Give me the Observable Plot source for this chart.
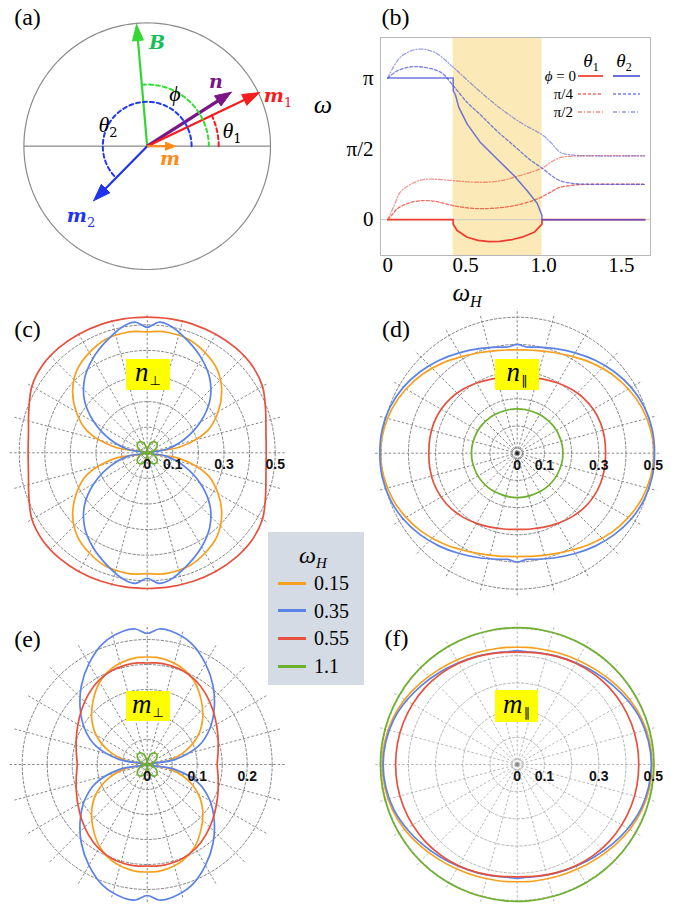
<!DOCTYPE html>
<html><head><meta charset="utf-8">
<script src="https://cdn.jsdelivr.net/npm/d3@7"></script>
<script src="https://cdn.jsdelivr.net/npm/@observablehq/plot@0.6"></script>
<style>
body{margin:0;background:#fff;}
#root{position:relative;width:688px;height:904px;overflow:hidden;background:#fff;}
.lbl{position:absolute;transform:translate(-50%,-50%);white-space:nowrap;line-height:1;color:#000;}
.rlbl{position:absolute;transform:translate(-100%,-50%);white-space:nowrap;line-height:1;color:#000;}
.tnr{font-family:"Liberation Serif",serif;}
.bm{font-family:"DejaVu Serif",serif;font-style:italic;font-weight:bold;}
.it{font-family:"Liberation Serif",serif;font-style:italic;}
.box{position:absolute;background:#ffff00;display:flex;align-items:center;justify-content:center;line-height:1;}
.pnl{position:absolute;}
</style></head>
<body><div id="root"></div>
<script>
// ================= DATA =================
// (a) vector diagram
const vecNames   = ["B", "n", "m1", "m2", "m"];
const vecAngles  = [95, 32.7, 25.5, 225.5, 0];      // degrees
const vecLengths = [0.99, 0.81, 1.01, 0.62, 0.23];  // in units of circle radius
const arcNames   = ["phi", "theta2", "theta1"];
const arcTargets = ["B", "m2", "m1"];
const arcRadii   = [0.5, 0.36, 0.58];

// (b) equilibrium angles vs omega_H
const bXTicks = [0, 0.5, 1.0, 1.5];
const bXTickLabels = ["0", "0.5", "1.0", "1.5"];
const bYTicks = [0, Math.PI / 2, Math.PI];
const bYTickLabels = ["0", "π/2", "π"];
const bShade = [0.42, 0.99];
const theta1Phi0 = [[0,0],[0.42,0],[0.42,-0.1],[0.445,-0.24],[0.51,-0.39],[0.58,-0.46],[0.65,-0.485],[0.72,-0.48],[0.8,-0.44],[0.87,-0.38],[0.94,-0.28],[0.99,-0.1],[0.99,0],[1.65,0]];
const theta2Phi0 = [[0,3.1416],[0.42,3.1416],[0.42,2.86],[0.435,2.76],[0.456,2.49],[0.51,2.12],[0.595,1.71],[0.7,1.35],[0.81,0.98],[0.895,0.64],[0.96,0.36],[0.99,0.09],[0.99,0],[1.65,0]];
const theta1Phi45 = [[0,0],[0.03,0.12],[0.06,0.24],[0.12,0.35],[0.21,0.42],[0.3,0.41],[0.42,0.31],[0.55,0.25],[0.66,0.25],[0.81,0.31],[0.96,0.46],[1.05,0.62],[1.1,0.71],[1.2,0.77],[1.3,0.785],[1.65,0.785]];
const theta1Phi90 = [[0,0],[0.04,0.31],[0.08,0.61],[0.15,0.79],[0.23,0.89],[0.34,0.89],[0.47,0.85],[0.6,0.83],[0.72,0.86],[0.85,0.98],[1.0,1.16],[1.05,1.28],[1.11,1.38],[1.2,1.41],[1.65,1.416]];
const theta2Phi45 = [[0,3.1416],[0.06,3.30],[0.15,3.39],[0.23,3.38],[0.34,3.27],[0.42,2.97],[0.51,2.60],[0.6,2.31],[0.7,1.97],[0.81,1.64],[0.92,1.31],[1.0,1.12],[1.05,0.98],[1.11,0.86],[1.2,0.8],[1.3,0.785],[1.65,0.785]];
const theta2Phi90 = [[0,3.1416],[0.08,3.6],[0.19,3.78],[0.3,3.71],[0.42,3.38],[0.55,2.97],[0.7,2.53],[0.85,2.16],[1.0,1.86],[1.05,1.7],[1.11,1.49],[1.2,1.43],[1.65,1.416]];

// (c)-(f) polar plots: radius at these angles (first quadrant, mirrored)
const polarAngles = [0, 10, 20, 30, 40, 50, 60, 70, 80, 85, 90];
const omegaH = ["0.15", "0.35", "0.55", "1.1"];
// (c) n_perp
const nPerp015 = [0, 0.13, 0.25, 0.32, 0.38, 0.425, 0.452, 0.472, 0.477, 0.476, 0.472];
const nPerp035 = [0, 0.075, 0.155, 0.24, 0.32, 0.38, 0.425, 0.465, 0.505, 0.512, 0.49];
const nPerp055 = [0.465, 0.471, 0.492, 0.52, 0.533, 0.536, 0.535, 0.533, 0.531, 0.53, 0.53];
const nPerp11  = [0, 0.016, 0.031, 0.043, 0.051, 0.053, 0.05, 0.04, 0.022, 0.011, 0];
// (d) n_par
const nPar015 = [0.503, 0.498, 0.488, 0.472, 0.453, 0.431, 0.41, 0.394, 0.384, 0.381, 0.38];
const nPar035 = [0.505, 0.504, 0.497, 0.484, 0.466, 0.446, 0.426, 0.409, 0.396, 0.392, 0.4];
const nPar055 = [0.325, 0.326, 0.326, 0.323, 0.317, 0.308, 0.298, 0.289, 0.283, 0.281, 0.28];
const nPar11  = [0.168, 0.168, 0.167, 0.167, 0.166, 0.165, 0.164, 0.163, 0.163, 0.163, 0.163];
// (e) m_perp
const mPerp015 = [0, 0.042, 0.083, 0.118, 0.145, 0.168, 0.19, 0.205, 0.213, 0.215, 0.215];
const mPerp035 = [0, 0.056, 0.11, 0.145, 0.175, 0.205, 0.233, 0.258, 0.271, 0.272, 0.262];
const mPerp055 = [0.14, 0.144, 0.151, 0.16, 0.171, 0.183, 0.194, 0.201, 0.204, 0.204, 0.203];
const mPerp11  = [0, 0.007, 0.014, 0.021, 0.026, 0.028, 0.027, 0.022, 0.013, 0.006, 0];
// (f) m_par
const mPar015 = [0.496, 0.494, 0.488, 0.478, 0.465, 0.453, 0.444, 0.437, 0.433, 0.432, 0.431];
const mPar035 = [0.493, 0.49, 0.483, 0.47, 0.456, 0.443, 0.432, 0.424, 0.418, 0.416, 0.419];
const mPar055 = [0.447, 0.447, 0.446, 0.444, 0.441, 0.436, 0.43, 0.423, 0.417, 0.414, 0.413];
const mPar11  = [0.503, 0.503, 0.503, 0.503, 0.503, 0.503, 0.503, 0.503, 0.503, 0.503, 0.503];

const cTickVals = [0, 0.1, 0.3, 0.5];
const cTickLabels = ["0", "0.1", "0.3", "0.5"];
const eTickVals = [0, 0.1, 0.2];
const eTickLabels = ["0", "0.1", "0.2"];

// ================= STYLE =================
const curveColors = ["#f7a01e", "#5b82e6", "#e6503d", "#6cb02c"];
const vecStyle = {
  B:  {color: "#33d633", w: 2.2, head: [16, 5.5]},
  n:  {color: "#7b1485", w: 3.2, head: [16, 6]},
  m1: {color: "#f51d1d", w: 2.2, head: [17, 6]},
  m2: {color: "#1f33f0", w: 2.2, head: [17, 6]},
  m:  {color: "#ff8a1a", w: 2.2, head: [10, 4]}
};
const arcColors = {phi: "#33dd33", theta2: "#2038f0", theta1: "#f01d1d"};

// ================= HELPERS =================
const root = document.getElementById("root");
const rad = d => d * Math.PI / 180;
function place(el, left, top, w, h) {
  const d = document.createElement("div");
  d.className = "pnl";
  d.style.left = left + "px"; d.style.top = top + "px";
  d.style.width = w + "px"; d.style.height = h + "px";
  d.appendChild(el); root.appendChild(d); return d;
}
function label(html, x, y, css, cls = "lbl") {
  const d = document.createElement("div");
  d.className = cls;
  d.style.left = x + "px"; d.style.top = y + "px";
  if (css) d.style.cssText += css;
  d.innerHTML = html; root.appendChild(d); return d;
}
function closedPolar(rs) {
  const A = polarAngles, pts = [];
  const push = (deg, r) => pts.push([r * Math.cos(rad(deg)), r * Math.sin(rad(deg))]);
  for (let i = 0; i < A.length; i++) push(A[i], rs[i]);
  for (let i = A.length - 2; i >= 0; i--) push(180 - A[i], rs[i]);
  for (let i = 1; i < A.length; i++) push(180 + A[i], rs[i]);
  for (let i = A.length - 2; i >= 1; i--) push(360 - A[i], rs[i]);
  return pts;
}
const baseStyle = {background: "transparent", overflow: "visible"};

// ================= PANEL (a) =================
(function () {
  const left = 0, top = 0, w = 300, h = 300, cx = 146.7, cy = 145.7, k = 123.3;
  const marks = [];
  const circ = d3.range(0, 361, 2).map(a => [Math.cos(rad(a)), Math.sin(rad(a))]);
  marks.push(Plot.line(circ, {x: d => d[0], y: d => d[1], stroke: "#8a8a8a", strokeWidth: 1.2}));
  marks.push(Plot.link([{x1: -1, x2: 1}], {x1: "x1", x2: "x2", y1: () => 0, y2: () => 0, stroke: "#8a8a8a", strokeWidth: 1.2}));
  vecNames.forEach((name, i) => {
    const a = rad(vecAngles[i]), L = vecLengths[i], st = vecStyle[name];
    const hl = st.head[0] / k, hw = st.head[1] / k;
    const tip = [L * Math.cos(a), L * Math.sin(a)];
    const base = [tip[0] - hl * Math.cos(a), tip[1] - hl * Math.sin(a)];
    const perp = [-Math.sin(a), Math.cos(a)];
    marks.push(Plot.link([{x2: base[0] + 0.3 * hl * Math.cos(a), y2: base[1] + 0.3 * hl * Math.sin(a)}],
      {x1: () => 0, y1: () => 0, x2: "x2", y2: "y2", stroke: st.color, strokeWidth: st.w}));
    const tri = [tip, [base[0] + hw * perp[0], base[1] + hw * perp[1]], [base[0] - hw * perp[0], base[1] - hw * perp[1]], tip];
    marks.push(Plot.line(tri, {x: d => d[0], y: d => d[1], fill: st.color, stroke: st.color, strokeWidth: 1}));
  });
  arcNames.forEach((name, i) => {
    const end = vecAngles[vecNames.indexOf(arcTargets[i])];
    const r = arcRadii[i];
    const pts = d3.range(0, end, 2).concat([end]).map(a => [r * Math.cos(rad(a)), r * Math.sin(rad(a))]);
    marks.push(Plot.line(pts, {x: d => d[0], y: d => d[1], stroke: arcColors[name], strokeWidth: 2, strokeDasharray: "4,3"}));
  });
  const plot = Plot.plot({
    width: w, height: h, margin: 0, style: baseStyle,
    x: {domain: [(left - cx) / k, (left + w - cx) / k], axis: null},
    y: {domain: [(cy - top - h) / k, (cy - top) / k], axis: null},
    marks
  });
  place(plot, left, top, w, h);
})();

// ================= PANEL (b) =================
(function () {
  const red = "#ee3b2e", blue = "#4a55d8";
  const L = (data, stroke, opts) => Plot.line(data, Object.assign({x: d => d[0], y: d => d[1], stroke, curve: "catmull-rom"}, opts));
  const plot = Plot.plot({
    width: 350, height: 300, marginLeft: 50, marginRight: 30, marginTop: 37, marginBottom: 45,
    style: baseStyle,
    x: {domain: [-0.047, 1.687]},
    y: {domain: [-0.794, 4.04]},
    marks: [
      Plot.rect([bShade], {x1: d => d[0], x2: d => d[1], fill: "#fbe9b8"}),
      Plot.ruleY([0], {stroke: "#c9c9c9", strokeWidth: 1}),
      L(theta1Phi90, red, {strokeWidth: 1.3, strokeOpacity: 0.55, strokeDasharray: "4,2,1,2"}),
      L(theta2Phi90, blue, {strokeWidth: 1.3, strokeOpacity: 0.55, strokeDasharray: "4,2,1,2"}),
      L(theta1Phi45, red, {strokeWidth: 1.3, strokeOpacity: 0.75, strokeDasharray: "3,2"}),
      L(theta2Phi45, blue, {strokeWidth: 1.3, strokeOpacity: 0.75, strokeDasharray: "3,2"}),
      L(theta1Phi0, red, {strokeWidth: 1.7, curve: "linear"}),
      L(theta2Phi0, blue, {strokeWidth: 1.5, strokeOpacity: 0.8, curve: "linear"}),
      Plot.frame({stroke: "#b8b8b8"}),
      Plot.axisX({ticks: bXTicks, tickFormat: d => bXTickLabels[bXTicks.indexOf(d)], tickSize: 0, tickPadding: 2,
        fontSize: 21, fontFamily: "Liberation Serif", label: null}),
      Plot.axisY({ticks: bYTicks, tickFormat: d => bYTickLabels[bYTicks.indexOf(d)], tickSize: 0, tickPadding: 7,
        fontSize: 21, fontFamily: "Liberation Serif", label: null})
    ]
  });
  place(plot, 330, 0, 350, 300);
})();

// ================= POLAR PANELS =================
function polarPanel(o) {
  const {left, top, w, h, cx, cy, k} = o;
  const marks = [];
  const circ = o.circles.flatMap(r => d3.range(0, 361, 3).map(a => ({r, x: r * Math.cos(rad(a)), y: r * Math.sin(rad(a))})));
  marks.push(Plot.line(circ, {x: "x", y: "y", z: "r", stroke: o.grid, strokeWidth: 0.9, strokeDasharray: "2.5,2"}));
  const sp = d3.range(0, 360, 15).map(a => ({x2: o.spokeR * Math.cos(rad(a)), y2: o.spokeR * Math.sin(rad(a))}));
  marks.push(Plot.link(sp, {x1: () => 0, y1: () => 0, x2: "x2", y2: "y2", stroke: o.grid, strokeWidth: 0.9, strokeDasharray: "2.5,2"}));
  if (o.centerDot) marks.push(Plot.dot([0], {x: () => 0, y: () => 0, r: 1.8, fill: o.centerDot, stroke: "none"}));
  o.curves.forEach((rs, i) => marks.push(Plot.line(closedPolar(rs), {
    x: d => d[0], y: d => d[1], curve: "catmull-rom-closed", stroke: curveColors[i], strokeWidth: 1.7
  })));
  marks.push(Plot.text(o.tickVals.map((v, i) => ({x: v, t: o.tickLabels[i]})), {
    x: "x", y: () => 0, text: "t", dy: 12, fontSize: 14, fontWeight: "bold", fontFamily: "Liberation Sans", fill: "#111"
  }));
  const plot = Plot.plot({
    width: w, height: h, margin: 0, style: baseStyle,
    x: {domain: [(left - cx) / k, (left + w - cx) / k], axis: null},
    y: {domain: [(cy - top - h) / k, (cy - top) / k], axis: null},
    marks
  });
  place(plot, left, top, w, h);
}

polarPanel({left: 0, top: 300, w: 300, h: 305, cx: 146.7, cy: 452.3, k: 256, grid: "#7a7a7a",
  circles: [0.1, 0.2, 0.3, 0.4, 0.5], spokeR: 0.54,
  curves: [nPerp015, nPerp035, nPerp055, nPerp11], tickVals: cTickVals, tickLabels: cTickLabels});
polarPanel({left: 344, top: 300, w: 344, h: 300, cx: 516.7, cy: 452.7, k: 272, grid: "#7a7a7a",
  circles: [0.01, 0.02, 0.1, 0.2, 0.3, 0.4, 0.5], spokeR: 0.53, centerDot: "#222",
  curves: [nPar015, nPar035, nPar055, nPar11], tickVals: cTickVals, tickLabels: cTickLabels});
polarPanel({left: 0, top: 600, w: 300, h: 304, cx: 146.7, cy: 764, k: 500, grid: "#7a7a7a",
  circles: [0.05, 0.1, 0.15, 0.2, 0.25], spokeR: 0.275,
  curves: [mPerp015, mPerp035, mPerp055, mPerp11], tickVals: eTickVals, tickLabels: eTickLabels});
polarPanel({left: 344, top: 600, w: 344, h: 304, cx: 516.7, cy: 764, k: 272, grid: "#b0b0b0",
  circles: [0.01, 0.02, 0.1, 0.2, 0.3, 0.4, 0.5], spokeR: 0.53, centerDot: "#888",
  curves: [mPar015, mPar035, mPar055, mPar11], tickVals: cTickVals, tickLabels: cTickLabels});

// ================= TEXT =================
const pl = "font-size:24px;";
label("(a)", 27.5, 16.5, pl, "lbl tnr");
label("(b)", 395.5, 16.5, pl, "lbl tnr");
label("(c)", 27.5, 328.5, pl, "lbl tnr");
label("(d)", 396, 328.5, pl, "lbl tnr");
label("(e)", 27.5, 639, pl, "lbl tnr");
label("(f)", 396.5, 638, pl, "lbl tnr");

// (a) labels
const sub = (t, s) => `<span style="font-size:${s}px;font-style:normal;font-weight:normal;position:relative;top:5px;font-family:'DejaVu Serif'">${t}</span>`;
label("B", 157, 42, "font-size:19px;color:#14bf5a;", "lbl bm");
label("ϕ", 175, 94, "font-size:22px;", "lbl it");
label("n", 216, 81, "font-size:19px;color:#7b1485;", "lbl bm");
label("m" + sub("1", 13), 278, 95, "font-size:19px;color:#f51d1d;", "lbl bm");
label("θ" + sub("2", 13), 108, 125, "font-size:22px;", "lbl it");
label("θ" + sub("1", 13), 232, 131, "font-size:22px;", "lbl it");
label("m", 170, 158, "font-size:19px;color:#ff8a1a;", "lbl bm");
label("m" + sub("2", 13), 81, 215, "font-size:19px;color:#1f33f0;", "lbl bm");

// (b) labels
const sub2 = (t, s, top) => `<span style="font-size:${s}px;position:relative;top:${top}px">${t}</span>`;
const subN = (t, s, top) => `<span style="font-size:${s}px;font-style:normal;position:relative;top:${top}px">${t}</span>`;
label("ω", 323, 105, "font-size:26px;", "lbl it");
label("ω" + sub2("H", 16, 6), 467, 292, "font-size:25px;", "lbl it");
label("θ" + subN("1", 12, 4), 591, 60, "font-size:19px;", "lbl it");
label("θ" + subN("2", 12, 4), 624, 60, "font-size:19px;", "lbl it");
const legRows = [76, 94, 112];
label("<i>ϕ</i> = 0", 576, legRows[0], "font-size:15px;line-height:13px;", "rlbl tnr");
label("π/4", 573, legRows[1], "font-size:15px;line-height:13px;", "rlbl tnr");
label("π/2", 573, legRows[2], "font-size:15px;line-height:13px;", "rlbl tnr");
(function () {
  const ns = "http://www.w3.org/2000/svg";
  const svg = document.createElementNS(ns, "svg");
  svg.setAttribute("width", 70); svg.setAttribute("height", 52);
  svg.style.cssText = "position:absolute;left:578px;top:70px;";
  const rows = [["none", 1, 1.7], ["3,2", 0.75, 1.4], ["4,2,1,2", 0.6, 1.4]];
  rows.forEach((r, i) => {
    [["#ee3b2e", 0, 25], ["#4a55d8", 35, 62]].forEach(([c, x1, x2]) => {
      const l = document.createElementNS(ns, "line");
      l.setAttribute("x1", x1); l.setAttribute("x2", x2);
      l.setAttribute("y1", legRows[i] - 70); l.setAttribute("y2", legRows[i] - 70);
      l.setAttribute("stroke", c); l.setAttribute("stroke-width", r[2]);
      l.setAttribute("stroke-opacity", r[1]);
      if (r[0] !== "none") l.setAttribute("stroke-dasharray", r[0]);
      svg.appendChild(l);
    });
  });
  root.appendChild(svg);
})();

// yellow boxes
function box(left, top, w, h, letter, symbol) {
  const d = document.createElement("div");
  d.className = "box";
  d.style.left = left + "px"; d.style.top = top + "px"; d.style.width = w + "px"; d.style.height = h + "px";
  d.innerHTML = `<span style="font:italic 27px 'Liberation Serif';position:relative;top:-2px">${letter}</span><span style="font:13px 'DejaVu Sans';position:relative;top:6px;margin-left:1px">${symbol}</span>`;
  root.appendChild(d);
}
box(126, 359, 44, 31, "n", "⊥");
box(495, 359, 44, 31, "n", "∥");
box(126, 691, 44, 30, "m", "⊥");
box(495, 690, 43, 32, "m", "∥");

// omega_H legend
(function () {
  const d = document.createElement("div");
  d.style.cssText = "position:absolute;left:268px;top:532px;width:96px;height:153px;background:#d5dbe5;";
  root.appendChild(d);
  label("ω" + sub2("H", 15, 5), 313, 555, "font-size:24px;", "lbl it");
  omegaH.forEach((v, i) => {
    const y = 583 + 27.7 * i;
    const ln = document.createElement("div");
    ln.style.cssText = `position:absolute;left:278px;top:${y - 1.5}px;width:28px;height:3px;background:${curveColors[i]};`;
    root.appendChild(ln);
    const t = document.createElement("div");
    t.className = "tnr";
    t.style.cssText = `position:absolute;left:314px;top:${y - 11}px;font-size:20px;line-height:22px;`;
    t.textContent = v;
    root.appendChild(t);
  });
})();
</script>
</body></html>
